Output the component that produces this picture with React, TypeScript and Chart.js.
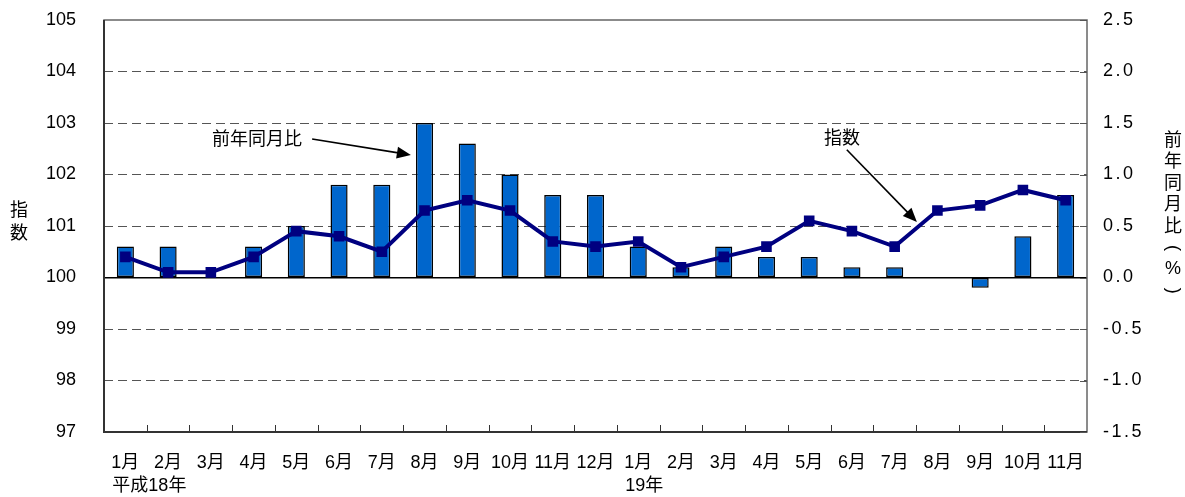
import React, { useEffect, useRef } from 'react';
import { Chart, registerables } from 'chart.js';

Chart.register(...registerables);

const FAMILY = "'Liberation Sans', Arial, 'Noto Sans CJK JP', sans-serif";

// Categories (months, 平成18年1月 – 19年11月)
const months = [
  '1月', '2月', '3月', '4月', '5月', '6月', '7月', '8月', '9月', '10月', '11月', '12月',
  '1月', '2月', '3月', '4月', '5月', '6月', '7月', '8月', '9月', '10月', '11月',
];
// Year captions under a month index
const yearIndexes = [0, 12];
const yearTexts = ['平成18年', '19年'];

// 指数 (left axis)
const indexValues = [
  100.4, 100.1, 100.1, 100.4, 100.9, 100.8, 100.5, 101.3, 101.5, 101.3, 100.7, 100.6,
  100.7, 100.2, 100.4, 100.6, 101.1, 100.9, 100.6, 101.3, 101.4, 101.7, 101.5,
];
// 前年同月比 % (right axis)
const yoyValues = [
  0.3, 0.3, 0.0, 0.3, 0.5, 0.9, 0.9, 1.5, 1.3, 1.0, 0.8, 0.8,
  0.3, 0.1, 0.3, 0.2, 0.2, 0.1, 0.1, 0.0, -0.1, 0.4, 0.8,
];

// Axis ranges
const leftMin = 97;
const leftMax = 105;
const leftStep = 1;
const rightMin = -1.5;
const rightMax = 2.5;
const rightStep = 0.5;

const leftTitle = '指数';
const rightTitle = '前年同月比（%）';

// Annotation texts and their anchors in data coordinates (category index, left-axis value)
const annoTexts = ['前年同月比', '指数'];
const annoTextAt = [[3.08, 102.67], [16.77, 102.69]];
const annoFrom = [[4.37, 102.69], [16.88, 102.48]];
const annoTo = [[6.68, 102.38], [18.52, 101.08]];

const decorPlugin = {
  id: 'decor',
  beforeDatasetsDraw(chart: any) {
    const { ctx, chartArea: a, scales } = chart;
    const x = scales.x;
    const y2 = scales.y2;
    ctx.save();
    // frame
    ctx.strokeStyle = '#666';
    ctx.lineWidth = 1.5;
    ctx.strokeRect(a.left, a.top, a.right - a.left, a.bottom - a.top);
    ctx.strokeStyle = '#333';
    ctx.lineWidth = 2;
    ctx.beginPath();
    ctx.moveTo(a.left, a.top);
    ctx.lineTo(a.left, a.bottom);
    ctx.lineTo(a.right, a.bottom);
    ctx.stroke();
    // category tick marks (between categories, inside)
    ctx.strokeStyle = '#333';
    ctx.lineWidth = 1;
    for (let i = 1; i < months.length; i++) {
      const px = Math.round((x.getPixelForValue(i - 1) + x.getPixelForValue(i)) / 2) + 0.5;
      ctx.beginPath();
      ctx.moveTo(px, a.bottom);
      ctx.lineTo(px, a.bottom - 7);
      ctx.stroke();
    }
    // right axis tick marks (inside)
    ctx.strokeStyle = '#555';
    y2.ticks.forEach((t: any) => {
      const py = Math.round(y2.getPixelForValue(t.value)) + 0.5;
      ctx.beginPath();
      ctx.moveTo(a.right - 7, py);
      ctx.lineTo(a.right, py);
      ctx.stroke();
    });
    ctx.restore();
  },
  afterDatasetsDraw(chart: any) {
    // spaced digits for the right axis labels (drawn after datasets, z = 1)
    chart.ctx.letterSpacing = '2.5px';
  },
  afterDraw(chart: any) {
    const { ctx, chartArea: a, scales } = chart;
    ctx.letterSpacing = '0px';
    const x = scales.x;
    const y = scales.y;
    ctx.save();
    ctx.fillStyle = '#000';
    ctx.strokeStyle = '#000';
    ctx.font = `18px ${FAMILY}`;
    ctx.textBaseline = 'middle';

    // year captions
    ctx.textAlign = 'left';
    yearIndexes.forEach((idx, k) => {
      const w = ctx.measureText(months[idx]).width;
      const cx = x.getPixelForValue(idx);
      ctx.fillText(yearTexts[k], cx - w / 2 + 1, a.bottom + 54);
    });

    // left axis title (vertical)
    ctx.textAlign = 'center';
    const lchars = Array.from(leftTitle);
    const lmid = (a.top + a.bottom) / 2 - 3;
    lchars.forEach((c, i) => {
      ctx.fillText(c, 19, lmid + (i - (lchars.length - 1) / 2) * 23);
    });

    // right axis title (vertical)
    const rchars = Array.from(rightTitle);
    const rx = 1173;
    const rTop = a.top + 121;
    rchars.forEach((c, i) => {
      const py = rTop + i * 21.4;
      if (c === '（' || c === '）') {
        ctx.save();
        ctx.translate(rx, py);
        ctx.rotate(Math.PI / 2);
        ctx.fillText(c === '（' ? '(' : ')', 0, 0);
        ctx.restore();
      } else {
        ctx.fillText(c, rx, py);
      }
    });

    // annotations
    annoTexts.forEach((t, i) => {
      ctx.textAlign = 'center';
      ctx.fillText(t, x.getPixelForValue(annoTextAt[i][0]), y.getPixelForValue(annoTextAt[i][1]));
      const x1 = x.getPixelForValue(annoFrom[i][0]);
      const y1 = y.getPixelForValue(annoFrom[i][1]);
      const x2 = x.getPixelForValue(annoTo[i][0]);
      const y2p = y.getPixelForValue(annoTo[i][1]);
      const ang = Math.atan2(y2p - y1, x2 - x1);
      const hl = 14;
      const hw = 6;
      ctx.lineWidth = 1.6;
      ctx.beginPath();
      ctx.moveTo(x1, y1);
      ctx.lineTo(x2 - Math.cos(ang) * hl * 0.8, y2p - Math.sin(ang) * hl * 0.8);
      ctx.stroke();
      ctx.beginPath();
      ctx.moveTo(x2, y2p);
      ctx.lineTo(x2 - Math.cos(ang) * hl - Math.sin(ang) * hw, y2p - Math.sin(ang) * hl + Math.cos(ang) * hw);
      ctx.lineTo(x2 - Math.cos(ang) * hl + Math.sin(ang) * hw, y2p - Math.sin(ang) * hl - Math.cos(ang) * hw);
      ctx.closePath();
      ctx.fill();
    });
    ctx.restore();
  },
};

const zeroPad = (s: any) => {
  s.paddingTop = 0;
  s.paddingBottom = 0;
};

export default function App() {
  const ref = useRef<HTMLCanvasElement | null>(null);

  useEffect(() => {
    if (!ref.current) return;
    const font = { family: FAMILY, size: 18 };
    const chart = new Chart(ref.current, {
      type: 'bar',
      data: {
        labels: months,
        datasets: [
          {
            type: 'line',
            label: '指数',
            data: indexValues,
            yAxisID: 'y',
            borderColor: '#000080',
            backgroundColor: '#000080',
            borderWidth: 4,
            pointStyle: 'rect',
            pointRadius: 7.5,
            pointBorderWidth: 0,
            pointBackgroundColor: '#000080',
            tension: 0,
            order: 0,
          } as any,
          {
            type: 'bar',
            label: '前年同月比',
            data: yoyValues,
            yAxisID: 'y2',
            backgroundColor: '#0066CC',
            borderColor: '#000000',
            borderWidth: 1.5,
            borderSkipped: false,
            categoryPercentage: 1,
            barPercentage: 0.4,
            order: 1,
          } as any,
        ],
      },
      options: {
        animation: false,
        responsive: true,
        maintainAspectRatio: false,
        layout: { padding: { top: 20, left: 0, right: 0, bottom: 0 } },
        plugins: { legend: { display: false }, tooltip: { enabled: false } },
        scales: {
          x: {
            type: 'category',
            grid: { display: false, drawTicks: false },
            border: { display: false },
            ticks: { font, color: '#000', padding: 20, autoSkip: false, maxRotation: 0 },
            afterFit: (s: any) => {
              s.height = 65;
              s.paddingLeft = 0;
              s.paddingRight = 0;
            },
          },
          y: {
            type: 'linear',
            position: 'left',
            min: leftMin,
            max: leftMax,
            ticks: { stepSize: leftStep, font, color: '#000', padding: 28 },
            grid: {
              drawTicks: false,
              color: (c: any) => {
                const v = c.tick?.value;
                if (v === 100) return '#000';
                if (v === leftMin || v === leftMax) return 'rgba(0,0,0,0)';
                return '#555';
              },
              lineWidth: (c: any) => (c.tick?.value === 100 ? 1.5 : 1),
            },
            border: {
              display: false,
              dash: (c: any) => (c.tick?.value === 100 ? [] : [9, 5]),
            },
            afterFit: (s: any) => {
              s.width = 104;
              zeroPad(s);
            },
          },
          y2: {
            type: 'linear',
            position: 'right',
            min: rightMin,
            max: rightMax,
            ticks: {
              stepSize: rightStep,
              font,
              color: '#000',
              padding: 16,
              z: 1,
              callback: (v: any) => Number(v).toFixed(1),
            },
            grid: { drawOnChartArea: false, drawTicks: false },
            border: { display: false },
            afterFit: (s: any) => {
              s.width = 98;
              zeroPad(s);
            },
          },
        },
      } as any,
      plugins: [decorPlugin],
    });
    return () => chart.destroy();
  }, []);

  return (
    <div style={{ position: 'fixed', left: 0, top: 0, width: 1185, height: 497, background: '#fff' }}>
      <canvas ref={ref} />
    </div>
  );
}
